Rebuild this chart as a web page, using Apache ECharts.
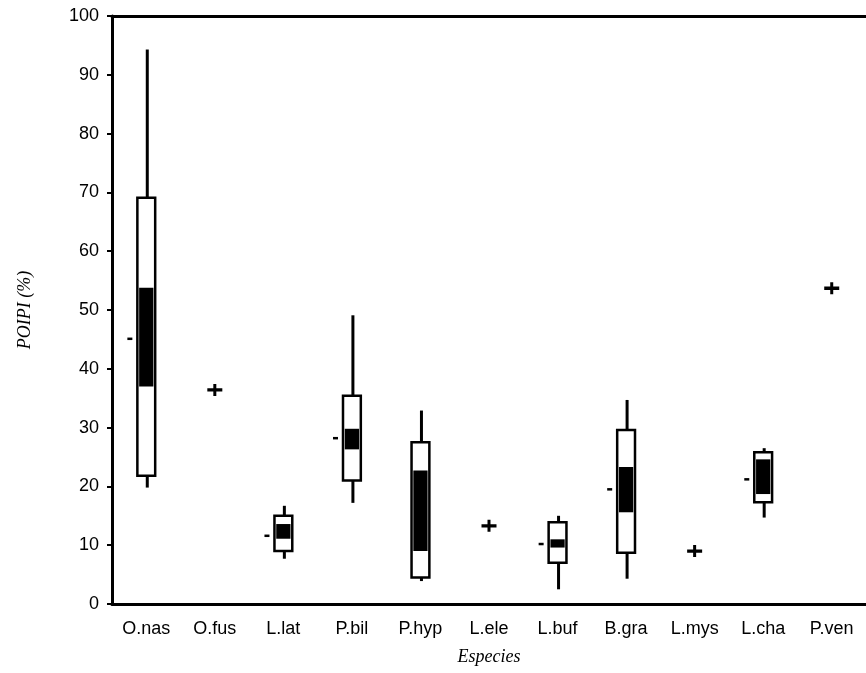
<!DOCTYPE html>
<html>
<head>
<meta charset="utf-8">
<script src="https://cdn.jsdelivr.net/npm/echarts@6/dist/echarts.min.js"></script>
<style>
  html, body { margin: 0; padding: 0; background: #fff; }
  #chart { width: 866px; height: 673px; }
</style>
</head>
<body>
<div id="chart"></div>
<script>
// especies y valores
var categories = ['O.nas', 'O.fus', 'L.lat', 'P.bil', 'P.hyp', 'L.ele', 'L.buf', 'B.gra', 'L.mys', 'L.cha', 'P.ven'];
var whiskerLow  = [19.8, null, 7.7, 17.2, 3.9, null, 2.5, 4.3, null, 14.7, null];
var q1          = [21.8, null, 9.0, 21.0, 4.5, null, 7.0, 8.7, null, 17.3, null];
var notchLow    = [37.0, null, 11.1, 26.3, 9.0, null, 9.6, 15.6, null, 18.7, null];
var notchHigh   = [53.8, null, 13.6, 29.8, 22.7, null, 11.0, 23.3, null, 24.6, null];
var q3          = [69.1, null, 15.0, 35.4, 27.5, null, 13.9, 29.6, null, 25.8, null];
var whiskerHigh = [94.3, null, 16.7, 49.1, 32.9, null, 15.0, 34.7, null, 26.5, null];
var means       = [45.1, null, 11.6, 28.2, null, null, 10.2, 19.5, null, 21.2, null];
var singleValues = [null, 36.4, null, null, null, 13.3, null, null, 9.0, null, 53.7];
var yTicks = [0, 10, 20, 30, 40, 50, 60, 70, 80, 90, 100];

var boxData = [];
var pointData = [];
for (var i = 0; i < categories.length; i++) {
    if (q1[i] != null) {
        boxData.push([i, whiskerLow[i], q1[i], notchLow[i], notchHigh[i], q3[i], whiskerHigh[i], means[i] == null ? '-' : means[i]]);
    }
    if (singleValues[i] != null) {
        pointData.push([i, singleValues[i]]);
    }
}

function renderBox(params, api) {
    var x = api.value(0);
    var bw = api.size([1, 0])[0] * 0.26;
    var nw = bw * 0.8;
    var c = api.coord([x, 0])[0];
    function py(v) { return api.coord([x, v])[1]; }
    var lineStyle = { stroke: '#000', lineWidth: 3 };
    var children = [
        { type: 'line', shape: { x1: c + 1, y1: py(api.value(1)), x2: c + 1, y2: py(api.value(2)) }, style: lineStyle },
        { type: 'line', shape: { x1: c + 1, y1: py(api.value(5)), x2: c + 1, y2: py(api.value(6)) }, style: lineStyle },
        { type: 'rect', shape: { x: c - bw / 2, y: py(api.value(5)), width: bw, height: py(api.value(2)) - py(api.value(5)) },
          style: { fill: '#fff', stroke: '#000', lineWidth: 2.5 } },
        { type: 'rect', shape: { x: c - nw / 2, y: py(api.value(4)), width: nw, height: py(api.value(3)) - py(api.value(4)) },
          style: { fill: '#000' } }
    ];
    var m = api.value(7);
    if (!isNaN(m)) {
        children.push({ type: 'line', shape: { x1: c - bw / 2 - 10, y1: py(m), x2: c - bw / 2 - 5, y2: py(m) },
            style: { stroke: '#000', lineWidth: 2.5 } });
    }
    return { type: 'group', children: children };
}

var myChart = echarts.init(document.getElementById('chart'));
var option = {
    backgroundColor: '#fff',
    animation: false,
    grid: { left: 112, right: 0, top: 16, bottom: 69 },
    xAxis: [{
        type: 'category',
        data: categories,
        name: 'Especies',
        nameLocation: 'middle',
        nameGap: 44,
        nameTextStyle: { fontFamily: 'Liberation Serif', fontStyle: 'italic', fontSize: 18, color: '#000' },
        axisLine: { lineStyle: { color: '#000', width: 3 } },
        axisTick: { alignWithLabel: true, length: 6, lineStyle: { color: '#000', width: 2 } },
        axisLabel: { fontFamily: 'Liberation Sans', fontSize: 18, color: '#000', margin: 16, interval: 0 },
        splitLine: { show: false }
    }, {
        type: 'category',
        data: categories,
        position: 'top',
        axisLine: { lineStyle: { color: '#000', width: 3 } },
        axisTick: { show: false },
        axisLabel: { show: false }
    }],
    yAxis: {
        type: 'value',
        min: yTicks[0],
        max: yTicks[yTicks.length - 1],
        interval: 10,
        name: 'POIPI (%)',
        nameLocation: 'middle',
        nameGap: 78,
        nameTextStyle: { fontFamily: 'Liberation Serif', fontStyle: 'italic', fontSize: 18, color: '#000' },
        axisLine: { show: true, lineStyle: { color: '#000', width: 3 } },
        axisTick: { show: true, length: 5, lineStyle: { color: '#000', width: 2 } },
        axisLabel: { fontFamily: 'Liberation Sans', fontSize: 18, color: '#000', margin: 13 },
        splitLine: { show: false }
    },
    series: [{
        type: 'custom',
        renderItem: renderBox,
        data: boxData,
        encode: { x: 0, y: [1, 6] },
        z: 3
    }, {
        type: 'scatter',
        data: pointData,
        symbol: 'path://M0,4 L6,4 L6,0 L9,0 L9,4 L15,4 L15,7 L9,7 L9,11 L6,11 L6,7 L0,7 Z',
        symbolSize: [15, 12],
        itemStyle: { color: '#000', opacity: 1 },
        z: 4
    }]
};
myChart.setOption(option);
</script>
</body>
</html>
